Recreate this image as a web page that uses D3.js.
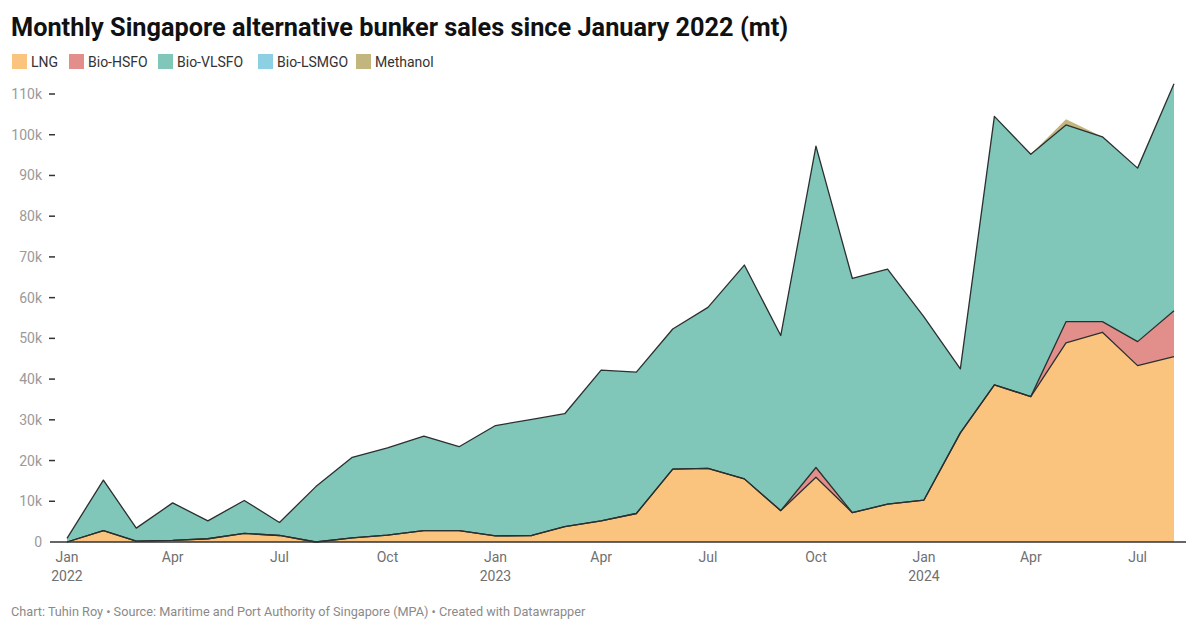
<!DOCTYPE html>
<html>
<head>
<meta charset="utf-8">
<script src="https://cdn.jsdelivr.net/npm/d3@7"></script>
<style>
  body { margin: 0; background: #fff; font-family: Roboto, "Noto Sans", sans-serif; }
  svg { display: block; }
  .ylab { fill: #9a9a9a; font-size: 14px; }
  .xlab { fill: #707070; font-size: 14px; }
</style>
</head>
<body>
<div id="chart"></div>
<script>
// monthly data, Jan 2022 - Aug 2024 (mt)
var months = ["2022-01","2022-02","2022-03","2022-04","2022-05","2022-06","2022-07","2022-08",
  "2022-09","2022-10","2022-11","2022-12","2023-01","2023-02","2023-03","2023-04",
  "2023-05","2023-06","2023-07","2023-08","2023-09","2023-10","2023-11","2023-12",
  "2024-01","2024-02","2024-03","2024-04","2024-05","2024-06","2024-07","2024-08"];

var lng = [0, 2800, 200, 400, 800, 2100, 1600, 0, 1000, 1700, 2800, 2800, 1500, 1600, 3800, 5200,
  7000, 17900, 18100, 15500, 7700, 15900, 7200, 9300, 10300, 26800, 38600, 35700, 48900, 51500, 43300, 45500];

var bioHsfo = [0, 0, 0, 0, 0, 0, 0, 0, 0, 0, 0, 0, 0, 0, 0, 0,
  0, 0, 0, 0, 0, 2400, 0, 0, 0, 0, 0, 0, 5200, 2600, 5900, 11300];

var bioVlsfo = [900, 12400, 3200, 9200, 4400, 8100, 3200, 13600, 19800, 21400, 23200, 20600, 27100, 28500, 27700, 37000,
  34700, 34400, 39500, 52500, 43000, 78900, 57500, 57700, 45000, 15700, 65900, 59500, 48300, 45400, 42600, 55700];

var bioLsmgo = [0, 0, 0, 0, 0, 0, 0, 0, 0, 0, 0, 0, 0, 0, 0, 0,
  0, 0, 0, 0, 0, 0, 0, 0, 0, 0, 0, 0, 0, 0, 0, 0];

var methanol = [0, 0, 0, 0, 0, 0, 0, 0, 0, 0, 0, 0, 0, 0, 0, 0,
  0, 0, 0, 0, 0, 0, 0, 0, 0, 0, 0, 0, 1400, 0, 0, 0];

var seriesNames = ["LNG", "Bio-HSFO", "Bio-VLSFO", "Bio-LSMGO", "Methanol"];
var seriesColors = ["#fbc47e", "#e28f8c", "#80c6b9", "#8dd0e4", "#c2b67e"];
var yTicks = [0, 10000, 20000, 30000, 40000, 50000, 60000, 70000, 80000, 90000, 100000, 110000];

var W = 1200, H = 632;
var parse = d3.timeParse("%Y-%m");

var rows = months.map(function(m, i) {
  return { date: parse(m), "LNG": lng[i], "Bio-HSFO": bioHsfo[i], "Bio-VLSFO": bioVlsfo[i],
           "Bio-LSMGO": bioLsmgo[i], "Methanol": methanol[i] };
});

var svg = d3.select("#chart").append("svg")
    .attr("width", W)
    .attr("height", H);

// title
svg.append("text")
    .attr("x", 11)
    .attr("y", 36)
    .attr("font-size", 25.3)
    .attr("font-weight", 700)
    .attr("fill", "#111")
    .text("Monthly Singapore alternative bunker sales since January 2022 (mt)");

// legend
var legX = [12, 69, 158, 258, 356];
var leg = svg.selectAll(".leg").data(seriesNames).enter()
    .append("g")
    .attr("class", "leg")
    .attr("transform", function(d, i) { return "translate(" + legX[i] + ",54)"; });
leg.append("rect")
    .attr("width", 15)
    .attr("height", 15)
    .attr("fill", function(d, i) { return seriesColors[i]; });
leg.append("text")
    .attr("x", 19)
    .attr("y", 12.5)
    .attr("font-size", 14)
    .attr("fill", "#333")
    .text(function(d) { return d; });

var x = d3.scaleTime()
    .domain([parse("2022-01"), parse("2024-08")])
    .range([67, 1174]);

var y = d3.scaleLinear()
    .domain([0, 110000])
    .range([542, 94]);

var stack = d3.stack().keys(seriesNames);
var layers = stack(rows);

var area = d3.area()
    .x(function(d) { return x(d.data.date); })
    .y0(function(d) { return y(d[0]); })
    .y1(function(d) { return y(d[1]); });

var topLine = d3.line()
    .x(function(d) { return x(d.data.date); })
    .y(function(d) { return y(d[1]); });

svg.selectAll(".layer").data(layers).enter()
    .append("path")
    .attr("class", "layer")
    .attr("d", area)
    .attr("fill", function(d, i) { return seriesColors[i]; });

// outline along the top of LNG, Bio-HSFO and Bio-VLSFO
svg.selectAll(".edge").data(layers.slice(0, 3)).enter()
    .append("path")
    .attr("class", "edge")
    .attr("d", topLine)
    .attr("fill", "none")
    .attr("stroke", "#2b2f2e")
    .attr("stroke-width", 1.3)
    .attr("stroke-linejoin", "round");

// y axis
var yg = svg.append("g");
yg.selectAll(".ylab").data(yTicks).enter()
    .append("text")
    .attr("class", "ylab")
    .attr("x", 42)
    .attr("y", function(d) { return y(d) + 5; })
    .attr("text-anchor", "end")
    .text(function(d) { return d === 0 ? "0" : (d / 1000) + "k"; });
yg.selectAll(".ytick").data(yTicks.slice(1)).enter()
    .append("line")
    .attr("x1", 49).attr("x2", 55)
    .attr("y1", function(d) { return y(d); })
    .attr("y2", function(d) { return y(d); })
    .attr("stroke", "#333")
    .attr("stroke-width", 1.5);

// baseline
svg.append("line")
    .attr("x1", 50).attr("x2", 1186)
    .attr("y1", y(0)).attr("y2", y(0))
    .attr("stroke", "#333")
    .attr("stroke-width", 1.3);

// x axis labels
var xTicks = x.ticks(d3.timeMonth.every(3));
var xg = svg.selectAll(".xt").data(xTicks).enter()
    .append("text")
    .attr("class", "xlab")
    .attr("x", function(d) { return x(d); })
    .attr("y", 562)
    .attr("text-anchor", "middle");
xg.append("tspan")
    .attr("x", function(d) { return x(d); })
    .text(d3.timeFormat("%b"));
xg.filter(function(d) { return d.getMonth() === 0; })
    .append("tspan")
    .attr("x", function(d) { return x(d); })
    .attr("dy", 19)
    .text(d3.timeFormat("%Y"));

// footer
svg.append("text")
    .attr("x", 11)
    .attr("y", 616)
    .attr("font-size", 12.7)
    .attr("fill", "#8a8a8a")
    .text("Chart: Tuhin Roy \u2022 Source: Maritime and Port Authority of Singapore (MPA) \u2022 Created with Datawrapper");
</script>
</body>
</html>
